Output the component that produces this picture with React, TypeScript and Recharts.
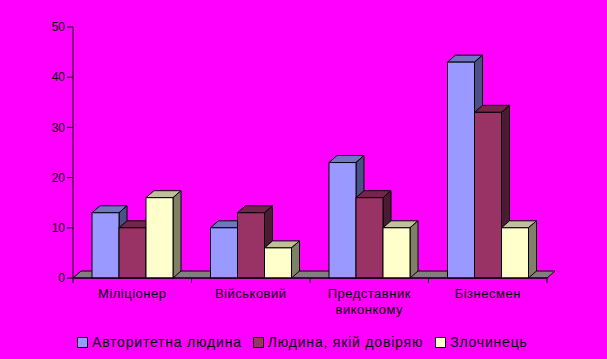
import React from 'react';
import { BarChart, Bar, XAxis, YAxis, ReferenceLine } from 'recharts';

const categories = ['Міліціонер', 'Військовий', 'Представник виконкому', 'Бізнесмен'];
const authority = [13, 10, 23, 43];
const trusted = [10, 13, 16, 33];
const criminal = [16, 6, 10, 10];
const yTicks = [0, 10, 20, 30, 40, 50];

const SERIES = [
  { key: 'authority', name: 'Авторитетна людина', front: '#9999FF', top: '#6F77C0', side: '#4B5187' },
  { key: 'trusted', name: 'Людина, якій довіряю', front: '#993366', top: '#73264D', side: '#4D1A33' },
  { key: 'criminal', name: 'Злочинець', front: '#FFFFCC', top: '#C0C09A', side: '#808066' },
];

const data = categories.map((name, i) => ({
  name,
  authority: authority[i],
  trusted: trusted[i],
  criminal: criminal[i],
}));

const DX = 8;
const DY = 7;
const FONT = 'Arial, "Liberation Sans", sans-serif';

const makeShape = (front: string, top: string, side: string) => (props: any) => {
  const { x, y, width: w, height: h } = props;
  if (w == null || h == null) return <g />;
  return (
    <g stroke="#000" strokeWidth={1}>
      <polygon fill={top} points={`${x},${y} ${x + DX},${y - DY} ${x + w + DX},${y - DY} ${x + w},${y}`} />
      <polygon fill={side} points={`${x + w},${y} ${x + w + DX},${y - DY} ${x + w + DX},${y + h - DY} ${x + w},${y + h}`} />
      <rect x={x} y={y} width={w} height={h} fill={front} />
    </g>
  );
};

const Floor = (props: any) => {
  const { x1, y1, x2, y2 } = props;
  return (
    <polygon
      fill="#808080"
      stroke="#000"
      strokeWidth={1}
      points={`${x1},${y1} ${x1 + DX},${y1 - DY} ${x2 + DX},${y2 - DY} ${x2},${y2}`}
    />
  );
};

const CategoryTick = (props: any) => {
  const { x, y, payload, index } = props;
  const half = payload.offset || 59.25;
  const words = String(payload.value).split(' ');
  return (
    <g>
      <line x1={x - half} y1={y - 8} x2={x - half} y2={y - 3} stroke="#000" />
      {index === categories.length - 1 && (
        <line x1={x + half} y1={y - 8} x2={x + half} y2={y - 3} stroke="#000" />
      )}
      <text x={x} y={y} textAnchor="middle" fontSize={13} fontFamily={FONT} fill="#000" letterSpacing={0.5}>
        {words.map((w, i) => (
          <tspan key={i} x={x} dy={i === 0 ? 12 : 16}>
            {w}
          </tspan>
        ))}
      </text>
    </g>
  );
};

export default function App() {
  return (
    <div style={{ position: 'relative', width: 607, height: 359, background: '#FF00FF' }}>
      <style>{'body{margin:0}'}</style>
      <BarChart
        width={607}
        height={359}
        data={data}
        margin={{ top: 27, right: 60, bottom: 0, left: 0 }}
        barCategoryGap={19}
        barGap={0}
      >
        <XAxis
          dataKey="name"
          height={81}
          axisLine={{ stroke: '#000' }}
          tickLine={false}
          interval={0}
          tick={<CategoryTick />}
        />
        <YAxis
          width={73}
          domain={[0, 50]}
          ticks={yTicks}
          axisLine={{ stroke: '#000' }}
          tickLine={{ stroke: '#000' }}
          tickSize={6}
          tick={{ fill: '#000', fontSize: 12, fontFamily: FONT }}
        />
        <ReferenceLine y={0} shape={<Floor />} zIndex={0} isFront={false} />
        {SERIES.map((s) => (
          <Bar
            key={s.key}
            dataKey={s.key}
            name={s.name}
            fill={s.front}
            shape={makeShape(s.front, s.top, s.side)}
            isAnimationActive={false}
          />
        ))}
      </BarChart>
      <div
        style={{
          position: 'absolute',
          top: 334,
          left: 77,
          display: 'flex',
          alignItems: 'center',
          fontFamily: FONT,
          fontSize: 14,
          letterSpacing: 0.8,
          color: '#000',
        }}
      >
        {SERIES.map((s, i) => (
          <div key={s.key} style={{ display: 'flex', alignItems: 'center', marginRight: i === 0 ? 11 : 12 }}>
            <span
              style={{
                display: 'inline-block',
                width: 9,
                height: 9,
                background: s.front,
                border: '1px solid #000',
                marginRight: 4,
              }}
            />
            <span>{s.name}</span>
          </div>
        ))}
      </div>
    </div>
  );
}
